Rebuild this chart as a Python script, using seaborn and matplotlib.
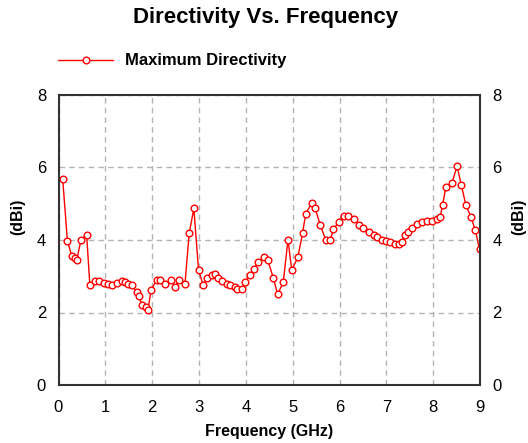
import matplotlib
matplotlib.use("Agg")
import matplotlib.pyplot as plt
import pandas as pd
import seaborn as sns

# Values
freq_ghz = [0.09, 0.19, 0.28, 0.36, 0.39, 0.48, 0.60, 0.67, 0.77, 0.87, 0.98, 1.05,
            1.14, 1.24, 1.35, 1.42, 1.49, 1.56, 1.67, 1.71, 1.79, 1.86, 1.91, 1.98,
            2.10, 2.17, 2.28, 2.40, 2.49, 2.58, 2.70, 2.79, 2.89, 2.99, 3.09, 3.17,
            3.27, 3.34, 3.41, 3.50, 3.59, 3.66, 3.76, 3.81, 3.91, 3.99, 4.09, 4.18,
            4.26, 4.38, 4.47, 4.59, 4.68, 4.80, 4.90, 4.98, 5.11, 5.21, 5.28, 5.41,
            5.48, 5.59, 5.71, 5.80, 5.87, 5.98, 6.10, 6.19, 6.30, 6.41, 6.51, 6.62,
            6.73, 6.80, 6.91, 6.99, 7.08, 7.19, 7.26, 7.33, 7.40, 7.47, 7.55, 7.65,
            7.76, 7.87, 7.97, 8.08, 8.15, 8.20, 8.27, 8.40, 8.51, 8.60, 8.70, 8.81,
            8.90, 8.99]
directivity_dbi = [5.67, 3.98, 3.57, 3.50, 3.45, 4.00, 4.15, 2.75, 2.87, 2.88, 2.82, 2.78,
                   2.75, 2.82, 2.88, 2.84, 2.79, 2.75, 2.57, 2.45, 2.20, 2.14, 2.08, 2.63,
                   2.91, 2.89, 2.80, 2.91, 2.71, 2.91, 2.78, 4.18, 4.87, 3.17, 2.75, 2.94,
                   3.03, 3.06, 2.94, 2.87, 2.80, 2.75, 2.71, 2.66, 2.66, 2.84, 3.03, 3.21,
                   3.40, 3.53, 3.44, 2.94, 2.50, 2.84, 4.01, 3.17, 3.52, 4.18, 4.73, 5.02,
                   4.87, 4.41, 3.99, 3.99, 4.29, 4.50, 4.66, 4.66, 4.59, 4.41, 4.32, 4.22,
                   4.13, 4.09, 4.01, 3.98, 3.95, 3.90, 3.88, 3.95, 4.13, 4.22, 4.32, 4.44,
                   4.50, 4.53, 4.53, 4.57, 4.64, 4.96, 5.45, 5.56, 6.04, 5.52, 4.96, 4.63,
                   4.27, 3.74]

x_ticks = list(range(0, 10))
y_ticks = [0, 2, 4, 6, 8]

df = pd.DataFrame({"Frequency (GHz)": freq_ghz, "Directivity": directivity_dbi})

sns.set_style("white")
plt.rcParams['font.family'] = ['Liberation Sans', 'DejaVu Sans']
plt.rcParams['text.color'] = 'black'

fig = plt.figure(figsize=(5.28, 4.43), dpi=100)
ax = fig.add_axes([58.5 / 528, 1 - 385 / 443, 421.5 / 528, 290 / 443])

sns.lineplot(data=df, x="Frequency (GHz)", y="Directivity", ax=ax, sort=False,
             color="red", linewidth=1, marker="o", markersize=4.8,
             markerfacecolor="white", markeredgecolor="red", markeredgewidth=1,
             label="Maximum Directivity")

ax.set_xlim(0, 9)
ax.set_ylim(0, 8)
ax.set_xticks(x_ticks)
ax.set_yticks(y_ticks)
ax.grid(True, color="#b4b4b4", linestyle=(0, (4, 3)), linewidth=1)
ax.tick_params(length=0, labelsize=12, colors="black")
ax.tick_params(axis="x", pad=11)
ax.tick_params(axis="y", pad=9)
for s in ax.spines.values():
    s.set_color("#333333")
    s.set_linewidth(1.5)

ax.set_xlabel("Frequency (GHz)", fontsize=11.5, fontweight="bold", va="center",
              color="black")
ax.xaxis.set_label_coords(0.5, -0.161)
ax.set_ylabel("(dBi)", fontsize=11.5, fontweight="bold", va="center", color="black")
ax.yaxis.set_label_coords(-0.096, 0.58)

ax2 = ax.twinx()
ax2.set_ylim(0, 8)
ax2.set_yticks(y_ticks)
ax2.tick_params(length=0, labelsize=12, colors="black", pad=9)
ax2.set_ylabel("(dBi)", fontsize=11.5, fontweight="bold", va="center", rotation=90,
               color="black")
ax2.yaxis.set_label_coords(1.091, 0.58)
for s in ax2.spines.values():
    s.set_visible(False)

ax.legend(loc="center left", bbox_to_anchor=(58 / 528, 1 - 61 / 443),
          bbox_transform=fig.transFigure, frameon=False, handlelength=3.3,
          handletextpad=0.7, borderpad=0, borderaxespad=0,
          prop={"size": 12, "weight": "bold"})

fig.text(266 / 528, 1 - 18 / 443, "Directivity Vs. Frequency", ha="center",
         va="center", fontsize=16, fontweight="bold", color="black")

fig.savefig("out.png", dpi=100)
